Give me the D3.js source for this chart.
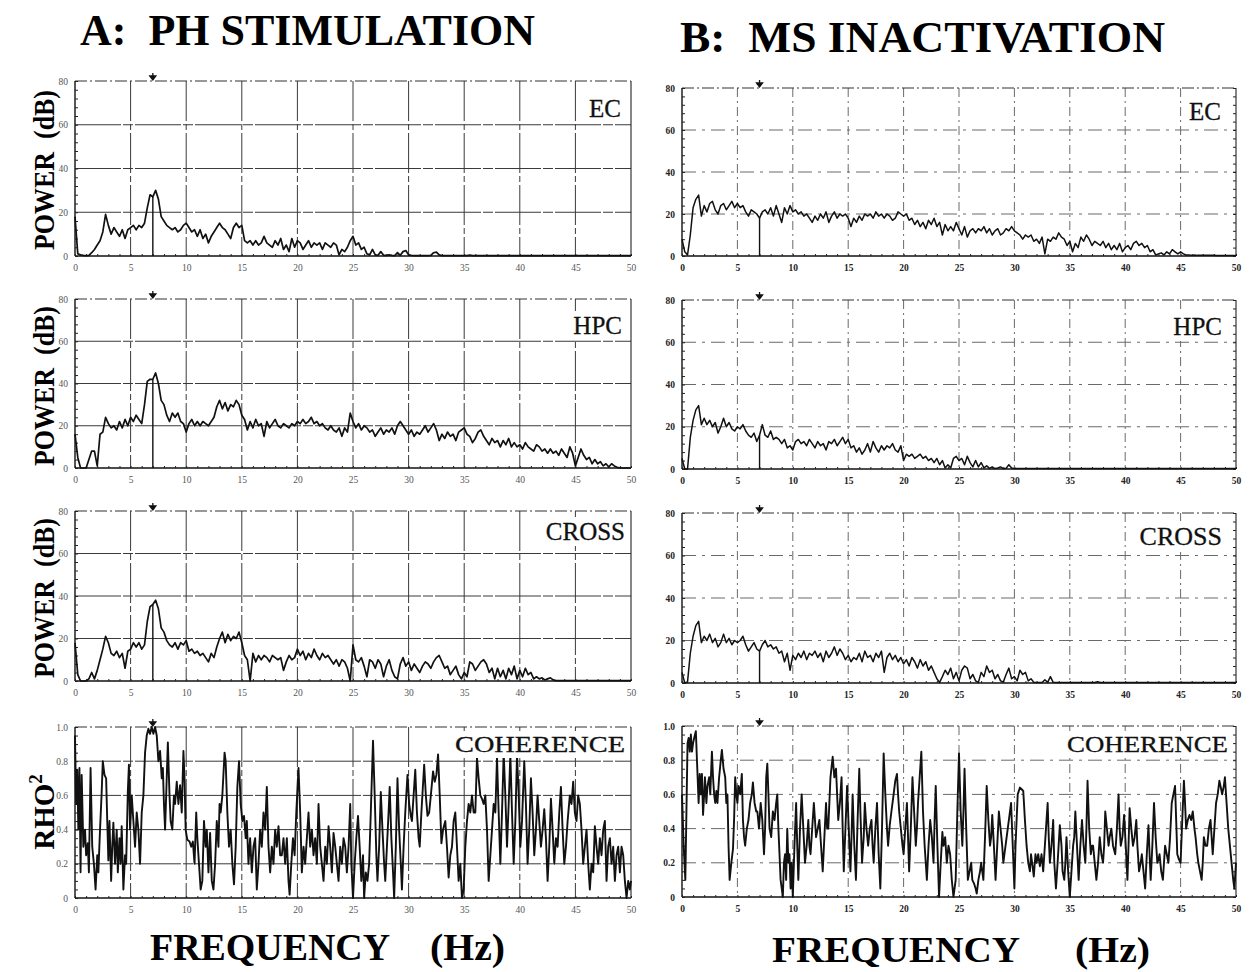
<!DOCTYPE html>
<html>
<head>
<meta charset="utf-8">
<script src="https://cdn.jsdelivr.net/npm/d3@7"></script>
<style>
  body { margin: 0; background: #fff; }
  svg text { font-family: "Liberation Serif", "Times New Roman", serif; }
</style>
</head>
<body>
<svg id="fig" width="1251" height="972"></svg>
<script>
// spectra are sampled every 0.25 Hz from 0 to 50 Hz
var FREQ_STEP = 0.25
var markerHz = 7
var xTicks = [0, 5, 10, 15, 20, 25, 30, 35, 40, 45, 50]
var powerTicks = [0, 20, 40, 60, 80]
var cohTicks = [0, 0.2, 0.4, 0.6, 0.8, 1.0]

// A: PH stimulation, power in dB
var ecA = [
  18,1,0.5,0.3,0.2,0.3,1.5,3,5,7,11,19,14,10,13,11,9,12,8,12,
  13,14,12,14,13,15,22,28,27,30,26,18,16,14,13,12,13,11,12,14,
  15,13,11,12,9,12,8,10,6,9,11,13,15,13,12,10,8,13,15,13,
  14,7,6,7,5,7,5,6,9,6,5,4,7,5,8,3,5,2,8,4,
  7,6,3,5,7,4,6,5,6,3,6,5,4,6,5,0.5,3,2,4,7,
  9,5,6,3,4,1,0.5,3,0.5,0.3,2,0.3,0.3,0.5,0.3,0.2,1.5,0.3,2,2.5,
  0.5,0.3,0.2,0.2,0.2,0.2,0.2,0.2,0.3,1.5,1.8,0.5,0.2,0.2,0.2,0.2,0.2,0.2,0.2,0.2,
  0.2,0.2,0.4,0.2,0.2,0.2,0.2,0.2,0.2,0.2,0.2,0.2,0.2,0.2,0.2,0.2,0.2,0.2,0.2,0.2,
  0.2,0.2,0.2,0.2,0.2,0.2,0.2,0.2,0.2,0.2,0.2,0.2,0.2,0.2,0.2,0.2,0.2,0.2,0.2,0.2,
  0.2,0.2,0.2,0.2,0.2,0.2,0.2,0.2,0.2,0.2,0.2,0.2,0.2,0.2,0.2,0.2,0.2,0.2,0.2,0.2,
  0.2
]
var hpcA = [
  16,5,0,0,0,4,8,8,1,16,17,24,21,19,20,18,22,19,23,20,
  24,22,25,23,21,30,41,42,42,45,40,32,30,25,22,26,24,26,22,21,
  17,21,23,20,22,20,22,21,20,22,24,29,32,28,31,27,30,29,32,30,
  25,23,18,22,19,23,20,21,15,22,19,21,23,20,19,21,20,19,21,20,
  22,21,23,21,22,24,21,22,20,21,19,18,20,18,17,19,15,19,17,26,
  22,19,21,18,20,19,17,18,15,17,19,16,18,17,19,16,20,22,20,18,
  16,18,15,17,16,18,20,17,19,21,18,13,16,14,17,15,16,13,17,18,
  19,16,15,12,14,17,18,15,13,11,14,12,13,10,13,11,14,10,12,10,
  11,9,12,10,9,8,11,10,8,9,7,9,7,8,6,9,7,5,10,7,
  1,5,9,6,4,5,2,4,2,3,1,2,0.5,2,1,0.3,0,0,0,0,
  0
]
var crossA = [
  18,3,0,0,0,1,4,1,5,10,15,21,18,13,12,14,11,13,6,14,
  15,18,16,18,15,17,28,35,36,38,34,25,23,19,17,16,18,15,18,17,
  19,14,15,13,14,12,13,11,9,13,11,16,20,23,18,22,19,21,20,23,
  18,12,10,0,13,9,12,10,12,11,9,12,11,10,11,5,9,12,10,11,
  15,12,14,10,13,11,15,12,10,13,11,12,10,8,10,7,10,9,6,0,
  17,10,9,11,7,2,10,9,6,10,8,2,7,10,5,2,1,8,11,7,
  9,5,8,6,4,7,9,8,6,9,11,12,9,6,7,3,5,7,3,1,
  4,2,9,8,5,7,9,10,8,4,6,1,6,2,5,1,6,3,7,1,
  5,2,6,3,4,1,2,1,1.5,0.5,1,1.5,0.5,0.2,0.2,0.2,0.2,0.2,0.2,0.2,
  0.2,0.2,0.2,0.2,0.2,0.2,0.2,0.2,0.2,0.2,0.2,0.2,0.2,0.2,0.2,0.2,0.2,0.2,0.2,0.2,
  0.2
]
// coherence, read as [Hz, rho^2] turning points
var cohA = [
  [0,0.95],[0.1,0.55],[0.2,0.75],[0.3,0.4],[0.4,0.76],[0.5,0.15],[0.6,0.72],[0.75,0.3],[0.9,0.4],[1.0,0.25],
  [1.15,0.32],[1.25,0.15],[1.4,0.76],[1.55,0.3],[1.7,0.2],[1.85,0.05],[2.0,0.25],[2.1,0.15],[2.25,0.4],[2.4,0.62],
  [2.5,0.8],[2.65,0.72],[2.8,0.7],[2.9,0.45],[3.0,0.22],[3.1,0.45],[3.25,0.1],[3.35,0.3],[3.45,0.44],[3.6,0.2],
  [3.75,0.4],[3.85,0.15],[4.0,0.35],[4.1,0.2],[4.2,0.42],[4.35,0.05],[4.5,0.25],[4.6,0.2],[4.75,0.62],[4.85,0.78],
  [4.95,0.4],[5.1,0.6],[5.25,0.45],[5.4,0.3],[5.55,0.5],[5.7,0.4],[5.85,0.2],[6.0,0.5],[6.15,0.6],[6.3,0.85],
  [6.45,0.95],[6.6,0.99],[6.75,0.96],[6.9,1.0],[7.05,0.96],[7.2,1.0],[7.35,0.95],[7.5,0.8],[7.65,0.86],[7.8,0.7],
  [7.9,0.76],[8.0,0.55],[8.1,0.4],[8.2,0.6],[8.35,0.91],[8.5,0.6],[8.6,0.45],[8.75,0.4],[8.9,0.6],[9.0,0.55],
  [9.15,0.68],[9.3,0.55],[9.45,0.66],[9.6,0.5],[9.75,0.86],[9.85,0.7],[9.95,0.4],[10.1,0.34],[10.3,0.33],[10.45,0.3],
  [10.6,0.33],[10.75,0.2],[10.9,0.5],[11.0,0.35],[11.15,0.2],[11.3,0.05],[11.45,0.1],[11.6,0.45],[11.75,0.3],[11.85,0.4],
  [12.0,0.15],[12.15,0.38],[12.3,0.1],[12.45,0.05],[12.6,0.2],[12.75,0.45],[12.9,0.3],[13.0,0.55],[13.1,0.5],[13.25,0.6],
  [13.45,0.85],[13.55,0.8],[13.7,0.5],[13.85,0.3],[14.0,0.4],[14.15,0.2],[14.3,0.08],[14.45,0.3],[14.6,0.65],[14.75,0.8],
  [14.9,0.55],[15.05,0.45],[15.2,0.48],[15.35,0.35],[15.45,0.45],[15.6,0.2],[15.75,0.35],[15.9,0.15],[16.05,0.3],[16.2,0.35],
  [16.35,0.05],[16.5,0.2],[16.65,0.4],[16.8,0.3],[16.95,0.5],[17.1,0.4],[17.25,0.65],[17.4,0.3],[17.55,0.15],[17.7,0.3],
  [17.85,0.2],[18.0,0.4],[18.15,0.3],[18.3,0.42],[18.45,0.25],[18.6,0.25],[18.75,0.35],[18.9,0.2],[19.05,0.35],[19.2,0.1],
  [19.3,0.02],[19.45,0.2],[19.6,0.35],[19.75,0.25],[19.9,0.5],[20.1,0.76],[20.25,0.5],[20.4,0.15],[20.55,0.3],[20.7,0.2],
  [20.85,0.35],[21.0,0.5],[21.15,0.3],[21.3,0.4],[21.45,0.25],[21.6,0.35],[21.75,0.2],[21.9,0.55],[22.05,0.3],[22.2,0.2],
  [22.35,0.1],[22.5,0.3],[22.65,0.2],[22.8,0.42],[22.95,0.3],[23.1,0.15],[23.25,0.38],[23.4,0.3],[23.55,0.2],[23.7,0.1],
  [23.85,0.3],[24.0,0.2],[24.15,0.35],[24.3,0.3],[24.45,0.15],[24.6,0.3],[24.75,0.55],[24.85,0.2],[25.0,0.0],[25.15,0.2],
  [25.3,0.35],[25.45,0.48],[25.6,0.3],[25.75,0.1],[25.9,0.25],[26.0,0.0],[26.15,0.15],[26.3,0.1],[26.45,0.2],[26.6,0.5],
  [26.8,0.92],[26.95,0.6],[27.1,0.25],[27.2,0.1],[27.35,0.3],[27.5,0.62],[27.65,0.4],[27.8,0.2],[27.9,0.1],[28.05,0.3],
  [28.2,0.5],[28.3,0.65],[28.45,0.35],[28.6,0.15],[28.7,0.0],[28.85,0.3],[29.0,0.7],[29.15,0.4],[29.3,0.2],[29.4,0.05],
  [29.55,0.3],[29.7,0.5],[29.9,0.72],[30.05,0.55],[30.2,0.48],[30.3,0.45],[30.45,0.6],[30.6,0.75],[30.75,0.5],[30.9,0.35],
  [31.0,0.3],[31.15,0.5],[31.4,0.78],[31.55,0.6],[31.7,0.48],[31.85,0.5],[32.0,0.6],[32.2,0.74],[32.35,0.68],[32.5,0.72],
  [32.65,0.84],[32.8,0.6],[32.95,0.32],[33.1,0.4],[33.3,0.45],[33.45,0.3],[33.6,0.12],[33.75,0.25],[33.9,0.3],[34.05,0.45],
  [34.2,0.5],[34.35,0.3],[34.5,0.1],[34.65,0.2],[34.8,0.0],[34.95,0.05],[35.1,0.3],[35.25,0.45],[35.4,0.55],[35.55,0.5],
  [35.7,0.6],[35.85,0.5],[36.0,0.5],[36.15,0.82],[36.3,0.7],[36.45,0.6],[36.6,0.58],[36.75,0.55],[36.9,0.6],[37.05,0.4],
  [37.2,0.1],[37.35,0.25],[37.5,0.4],[37.65,0.55],[37.8,0.5],[37.95,0.82],[38.1,0.5],[38.25,0.2],[38.4,0.5],[38.55,0.85],
  [38.7,0.6],[38.85,0.3],[39.0,0.55],[39.15,0.84],[39.3,0.5],[39.45,0.2],[39.6,0.45],[39.75,0.84],[39.9,0.6],[40.05,0.3],
  [40.2,0.45],[40.4,0.8],[40.55,0.55],[40.7,0.2],[40.85,0.4],[41.0,0.7],[41.15,0.5],[41.3,0.25],[41.45,0.4],[41.6,0.6],
  [41.75,0.45],[41.9,0.3],[42.05,0.4],[42.2,0.52],[42.35,0.35],[42.5,0.1],[42.65,0.3],[42.8,0.58],[42.95,0.4],[43.1,0.2],
  [43.25,0.35],[43.4,0.3],[43.55,0.5],[43.7,0.65],[43.85,0.4],[44.0,0.2],[44.15,0.3],[44.3,0.45],[44.5,0.6],[44.65,0.55],
  [44.8,0.68],[44.95,0.5],[45.1,0.45],[45.25,0.6],[45.4,0.55],[45.55,0.4],[45.7,0.2],[45.85,0.3],[46.0,0.4],[46.15,0.2],
  [46.3,0.05],[46.45,0.2],[46.6,0.15],[46.75,0.42],[46.9,0.3],[47.05,0.2],[47.2,0.35],[47.35,0.25],[47.5,0.4],[47.65,0.45],
  [47.8,0.1],[47.95,0.3],[48.1,0.35],[48.25,0.2],[48.4,0.3],[48.55,0.1],[48.7,0.25],[48.85,0.3],[49.0,0.15],[49.15,0.3],
  [49.3,0.25],[49.45,0.1],[49.6,0.0],[49.75,0.1],[49.9,0.05],[50.0,0.1]
]

// B: MS inactivation, power in dB
var ecB = [
  8,2,0.5,10,23,27,29,19,24,21,25,26,22,20,24,25,22,24,26,23,
  25,23,24,21,19,22,21,20,18,21,22,20,23,19,24,20,16,23,20,24,
  21,22,20,21,19,20,18,16,19,17,20,18,21,16,19,21,18,20,19,20,
  18,14,18,16,19,17,20,19,20,18,21,19,20,18,20,19,17,18,21,20,
  19,20,17,18,15,17,14,16,13,17,15,18,14,16,10,15,12,14,12,16,
  13,10,14,9,12,13,11,13,12,14,11,13,10,12,13,10,11,13,12,14,
  12,11,10,8,10,9,10,7,8,6,9,1,8,7,9,8,11,9,8,5,
  7,2,6,4,9,7,10,8,5,7,6,5,7,4,6,3,5,3,6,2,
  4,5,3,6,7,5,6,4,5,2,3,0.5,1,1.5,0.5,2,1,3,2,1,
  2,1,0.5,0.5,0.3,0.5,0.3,0.3,0.3,0.3,0.3,0.3,0.3,0.2,0.2,0.2,0.2,0.2,0.2,0.2,
  0.2
]
var hpcB = [
  5,0,0,15,23,28,30,21,24,21,23,20,22,17,20,24,20,22,19,18,
  20,19,21,18,16,15,17,13,16,21,16,15,18,14,15,14,12,14,10,11,
  9,13,14,12,13,11,14,12,10,13,11,12,9,13,12,14,11,13,15,12,
  14,10,11,8,10,7,9,12,8,13,10,8,11,9,11,10,12,9,8,11,
  4,7,6,7,5,6,7,5,6,4,5,3,5,2,4,0.5,2,0.5,5,6,
  4,5,2,6,3,1,4,1,3,0.5,1.5,0.3,1,0.2,0.5,1,0.2,0.3,2,0.5,
  0.2,0.2,0.2,0.2,0.2,0.2,0.2,0.2,0.2,0.2,0.2,0.2,0.2,0.2,0.2,0.2,0.2,0.2,0.2,0.2,
  0.2,0.2,0.2,0.2,0.2,0.2,0.2,0.2,0.2,0.2,0.2,0.2,0.2,0.2,0.2,0.2,0.2,0.2,0.2,0.2,
  0.2,0.2,0.2,0.2,0.2,0.2,0.2,0.2,0.2,0.2,0.2,0.2,0.2,0.2,0.2,0.2,0.2,0.2,0.2,0.2,
  0.2,0.2,0.2,0.2,0.2,0.2,0.2,0.2,0.2,0.2,0.2,0.2,0.2,0.2,0.2,0.2,0.2,0.2,0.2,0.2,
  0.2
]
var crossB = [
  5,0,0.5,14,22,27,29,19,22,20,23,19,21,17,19,23,19,21,18,20,
  19,20,22,18,15,17,19,16,15,18,20,17,18,16,17,14,15,10,14,6,
  13,11,14,12,15,11,14,13,15,12,14,10,15,12,14,17,13,16,14,11,
  13,10,12,11,14,10,15,12,13,10,14,12,15,5,12,14,11,13,10,12,
  9,11,8,12,10,7,11,8,10,6,8,5,2,0.3,3,6,4,7,2,5,
  1,6,8,7,2,4,1,0.3,5,3,8,5,6,2,4,1,0.5,4,7,2,
  3,1,6,4,5,1,2,0.3,0.2,0.2,0.2,1.5,0.3,3,0.3,0.2,0.2,0.2,0.2,0.2,
  0.2,0.2,0.2,0.2,0.2,0.2,0.2,0.2,0.2,0.2,0.6,0.2,0.2,0.2,0.2,0.2,0.2,0.2,0.2,0.2,
  0.2,0.2,0.2,0.2,0.2,0.2,0.2,0.2,0.2,0.2,0.2,0.2,0.2,0.2,0.2,0.2,0.2,0.2,0.2,0.2,
  0.2,0.2,0.2,0.2,0.2,0.2,0.2,0.2,0.2,0.2,0.2,0.2,0.2,0.2,0.2,0.2,0.2,0.2,0.2,0.2,
  0.2
]
var cohB = [
  [0,0.6],[0.15,0.3],[0.3,0.1],[0.4,0.5],[0.5,0.9],[0.6,0.93],[0.7,0.85],[0.8,0.95],[0.9,0.85],[1.0,0.9],
  [1.1,0.93],[1.25,0.97],[1.35,0.8],[1.5,0.55],[1.6,0.72],[1.7,0.6],[1.8,0.72],[1.9,0.48],[2.0,0.6],[2.07,0.7],
  [2.2,0.55],[2.3,0.65],[2.45,0.7],[2.55,0.6],[2.7,0.85],[2.8,0.7],[2.9,0.6],[3.0,0.55],[3.1,0.62],[3.2,0.55],
  [3.35,0.7],[3.5,0.8],[3.6,0.86],[3.75,0.75],[3.9,0.7],[4.0,0.55],[4.1,0.6],[4.2,0.3],[4.3,0.1],[4.45,0.2],
  [4.6,0.28],[4.7,0.45],[4.8,0.7],[4.9,0.6],[5.0,0.55],[5.1,0.65],[5.25,0.6],[5.4,0.72],[5.5,0.45],[5.6,0.35],
  [5.7,0.3],[5.85,0.4],[6.0,0.45],[6.15,0.55],[6.3,0.6],[6.4,0.67],[6.55,0.55],[6.7,0.5],[6.8,0.5],[6.95,0.4],
  [7.1,0.55],[7.25,0.45],[7.4,0.25],[7.5,0.4],[7.6,0.7],[7.7,0.78],[7.8,0.6],[7.9,0.4],[8.05,0.35],[8.2,0.5],
  [8.35,0.45],[8.5,0.55],[8.6,0.6],[8.7,0.4],[8.8,0.25],[8.9,0.1],[9.0,0.05],[9.1,0.0],[9.2,0.2],[9.3,0.25],
  [9.4,0.1],[9.5,0.4],[9.6,0.2],[9.7,0.25],[9.8,0.05],[9.9,0.2],[10.0,0.0],[10.15,0.3],[10.3,0.55],[10.4,0.3],
  [10.5,0.1],[10.65,0.4],[10.8,0.6],[10.95,0.4],[11.1,0.2],[11.25,0.3],[11.4,0.45],[11.5,0.3],[11.6,0.25],[11.75,0.4],
  [11.9,0.55],[12.0,0.45],[12.1,0.35],[12.25,0.4],[12.4,0.45],[12.55,0.3],[12.7,0.15],[12.85,0.35],[13.0,0.55],[13.1,0.4],
  [13.2,0.4],[13.4,0.7],[13.6,0.82],[13.75,0.7],[13.9,0.75],[14.0,0.6],[14.1,0.45],[14.25,0.55],[14.4,0.7],[14.5,0.4],
  [14.6,0.15],[14.75,0.4],[14.9,0.65],[15.05,0.4],[15.2,0.15],[15.3,0.35],[15.4,0.6],[15.55,0.3],[15.7,0.1],[15.85,0.45],
  [16.0,0.75],[16.1,0.5],[16.25,0.2],[16.4,0.35],[16.5,0.55],[16.65,0.4],[16.8,0.3],[16.95,0.4],[17.1,0.45],[17.2,0.3],
  [17.3,0.2],[17.45,0.4],[17.6,0.55],[17.75,0.25],[17.9,0.05],[18.05,0.4],[18.2,0.84],[18.35,0.6],[18.5,0.4],[18.6,0.3],
  [18.75,0.42],[18.9,0.5],[19.1,0.6],[19.25,0.68],[19.4,0.72],[19.5,0.6],[19.6,0.5],[19.75,0.4],[19.9,0.3],[20.0,0.25],
  [20.15,0.4],[20.3,0.55],[20.4,0.35],[20.5,0.15],[20.65,0.4],[20.8,0.7],[20.95,0.5],[21.1,0.3],[21.2,0.4],[21.3,0.55],
  [21.45,0.7],[21.6,0.85],[21.75,0.5],[21.9,0.3],[22.0,0.2],[22.1,0.1],[22.25,0.3],[22.4,0.45],[22.55,0.35],[22.7,0.2],
  [22.8,0.45],[22.9,0.65],[23.05,0.3],[23.2,0.0],[23.35,0.2],[23.5,0.38],[23.6,0.3],[23.75,0.35],[23.9,0.2],[24.05,0.3],
  [24.2,0.25],[24.35,0.1],[24.5,0.0],[24.6,0.05],[24.7,0.1],[24.85,0.5],[25.0,0.84],[25.15,0.5],[25.3,0.3],[25.4,0.5],
  [25.5,0.75],[25.65,0.4],[25.8,0.1],[25.95,0.15],[26.1,0.2],[26.2,0.1],[26.35,0.08],[26.5,0.05],[26.6,0.02],[26.75,0.1],
  [26.9,0.15],[27.0,0.2],[27.1,0.15],[27.2,0.1],[27.35,0.35],[27.5,0.65],[27.65,0.45],[27.8,0.3],[27.9,0.35],[28.0,0.48],
  [28.15,0.3],[28.3,0.1],[28.45,0.3],[28.6,0.5],[28.75,0.4],[28.9,0.3],[29.0,0.2],[29.1,0.25],[29.3,0.35],[29.5,0.45],
  [29.6,0.5],[29.7,0.55],[29.85,0.3],[30.0,0.05],[30.1,0.3],[30.3,0.6],[30.5,0.64],[30.65,0.63],[30.8,0.62],[30.95,0.45],
  [31.1,0.3],[31.25,0.2],[31.4,0.15],[31.5,0.25],[31.6,0.2],[31.75,0.12],[31.9,0.25],[32.0,0.2],[32.15,0.25],[32.3,0.18],
  [32.45,0.25],[32.6,0.15],[32.7,0.25],[32.85,0.4],[33.0,0.55],[33.1,0.35],[33.2,0.2],[33.35,0.3],[33.5,0.45],[33.6,0.2],
  [33.75,0.05],[33.9,0.2],[34.1,0.42],[34.25,0.3],[34.35,0.15],[34.5,0.1],[34.6,0.2],[34.7,0.35],[34.85,0.15],[35.0,0.0],
  [35.15,0.15],[35.3,0.3],[35.4,0.35],[35.5,0.5],[35.65,0.3],[35.8,0.1],[35.95,0.3],[36.1,0.45],[36.25,0.3],[36.4,0.2],
  [36.5,0.4],[36.6,0.68],[36.75,0.4],[36.9,0.25],[37.0,0.3],[37.1,0.3],[37.25,0.2],[37.4,0.1],[37.55,0.2],[37.7,0.35],
  [37.85,0.25],[38.0,0.2],[38.1,0.3],[38.2,0.5],[38.35,0.4],[38.5,0.3],[38.6,0.35],[38.75,0.4],[38.9,0.3],[39.1,0.25],
  [39.25,0.4],[39.4,0.6],[39.5,0.4],[39.6,0.3],[39.75,0.35],[39.9,0.48],[40.05,0.3],[40.2,0.1],[40.3,0.3],[40.4,0.52],
  [40.55,0.4],[40.7,0.3],[40.85,0.35],[41.0,0.45],[41.1,0.3],[41.25,0.15],[41.4,0.2],[41.5,0.25],[41.65,0.15],[41.8,0.05],
  [41.95,0.25],[42.1,0.42],[42.2,0.25],[42.3,0.1],[42.45,0.3],[42.6,0.55],[42.75,0.35],[42.9,0.2],[43.0,0.22],[43.1,0.25],
  [43.25,0.15],[43.4,0.1],[43.5,0.2],[43.6,0.3],[43.75,0.25],[43.9,0.2],[44.05,0.35],[44.2,0.55],[44.35,0.6],[44.5,0.65],
  [44.6,0.45],[44.7,0.25],[44.85,0.22],[45.0,0.2],[45.15,0.45],[45.3,0.68],[45.4,0.55],[45.5,0.4],[45.65,0.45],[45.8,0.48],
  [45.95,0.45],[46.1,0.5],[46.25,0.4],[46.35,0.35],[46.5,0.25],[46.6,0.2],[46.75,0.15],[46.9,0.1],[47.0,0.2],[47.1,0.35],
  [47.25,0.3],[47.4,0.3],[47.55,0.4],[47.7,0.45],[47.8,0.35],[47.9,0.25],[48.05,0.4],[48.2,0.55],[48.35,0.6],[48.5,0.68],
  [48.6,0.65],[48.75,0.6],[48.9,0.65],[49.0,0.7],[49.15,0.55],[49.3,0.4],[49.45,0.3],[49.6,0.2],[49.75,0.1],[49.85,0.05],
  [50.0,0.2]
]

var svg = d3.select("#fig")

// layout of the two columns
var colA = {x0: 75, x1: 631, grid: "#3a3a3a", hDash: "46,2,10,2", vDash: "40,3,6,3", tickFill: "#555", tickWeight: "normal", stroke: 1.7, rightTicks: false}
var colB = {x0: 682, x1: 1236, grid: "#6a6a6a", hDash: "14,6,3,6", vDash: "9,4,2,4", tickFill: "#222", tickWeight: "bold", stroke: 1.5, rightTicks: true}

var panelsA = [
  {label: "EC", kind: "power", values: ecA, top: 81, bottom: 256, lx: 621, ly: 117, fs: 25},
  {label: "HPC", kind: "power", values: hpcA, top: 299, bottom: 468, lx: 622, ly: 334, fs: 25},
  {label: "CROSS", kind: "power", values: crossA, top: 511, bottom: 681, lx: 625, ly: 540, fs: 25},
  {label: "COHERENCE", kind: "coh", pts: cohA, top: 727, bottom: 898, lx: 625, ly: 752, fs: 23, len: 170}
]
var panelsB = [
  {label: "EC", kind: "power", values: ecB, top: 88, bottom: 256, lx: 1221, ly: 120, fs: 25},
  {label: "HPC", kind: "power", values: hpcB, top: 300, bottom: 469, lx: 1222, ly: 335, fs: 25},
  {label: "CROSS", kind: "power", values: crossB, top: 513, bottom: 683, lx: 1222, ly: 545, fs: 26},
  {label: "COHERENCE", kind: "coh", pts: cohB, top: 726, bottom: 897, lx: 1228, ly: 752, fs: 23, len: 161}
]

var drawPanel = function(p, col){
  var isPower = p.kind == "power"
  var x = d3.scaleLinear().domain([0, 50]).range([col.x0, col.x1])
  var y = d3.scaleLinear().domain(isPower ? [0, 80] : [0, 1]).range([p.bottom, p.top])
  var yTicks = isPower ? powerTicks : cohTicks
  var g = svg.append("g")

  // grid
  g.selectAll(".hg").data(yTicks.slice(1, -1)).enter().append("line")
    .attr("x1", col.x0).attr("x2", col.x1)
    .attr("y1", function(d){ return y(d) }).attr("y2", function(d){ return y(d) })
    .attr("stroke", col.grid).attr("stroke-width", 1).attr("stroke-dasharray", col.hDash)
  g.selectAll(".vg").data(xTicks.slice(1, -1)).enter().append("line")
    .attr("x1", function(d){ return x(d) }).attr("x2", function(d){ return x(d) })
    .attr("y1", p.top).attr("y2", p.bottom)
    .attr("stroke", col.grid).attr("stroke-width", 1).attr("stroke-dasharray", col.vDash)

  // frame
  g.append("line").attr("x1", col.x0).attr("x2", col.x1).attr("y1", p.top).attr("y2", p.top)
    .attr("stroke", "#333").attr("stroke-width", 1.1).attr("stroke-dasharray", "12,3,2,3")
  g.append("line").attr("x1", col.x0).attr("x2", col.x1).attr("y1", p.bottom).attr("y2", p.bottom)
    .attr("stroke", "#111").attr("stroke-width", 1.3)
  g.append("line").attr("x1", col.x0).attr("x2", col.x0).attr("y1", p.top).attr("y2", p.bottom)
    .attr("stroke", "#111").attr("stroke-width", 1.4)
  g.append("line").attr("x1", col.x1).attr("x2", col.x1).attr("y1", p.top).attr("y2", p.bottom)
    .attr("stroke", "#222").attr("stroke-width", 1.1)

  // small ticks along the frame
  var minor = isPower ? d3.range(0, 80.01, 4) : d3.range(0, 1.001, 0.05)
  var ml = g.append("g").attr("transform", "translate(" + col.x0 + ",0)")
    .call(d3.axisRight(y).tickValues(minor).tickSize(3).tickFormat(""))
  ml.select(".domain").remove()
  ml.selectAll("line").attr("stroke", "#222")
  if (col.rightTicks){
    var mr = g.append("g").attr("transform", "translate(" + col.x1 + ",0)")
      .call(d3.axisLeft(y).tickValues(minor).tickSize(3).tickFormat(""))
    mr.select(".domain").remove()
    mr.selectAll("line").attr("stroke", "#222")
  }
  var mb = g.append("g").attr("transform", "translate(0," + p.bottom + ")")
    .call(d3.axisTop(x).tickValues(d3.range(0, 50.01, 1)).tickSize(2).tickFormat(""))
  mb.select(".domain").remove()
  mb.selectAll("line").attr("stroke", "#222")

  // tick labels
  var ya = g.append("g").attr("transform", "translate(" + col.x0 + ",0)")
    .call(d3.axisLeft(y).tickValues(yTicks).tickSize(0).tickPadding(7)
      .tickFormat(function(d){ return isPower ? d : (d == 0 ? "0" : d.toFixed(1)) }))
  ya.select(".domain").remove()
  var xa = g.append("g").attr("transform", "translate(0," + p.bottom + ")")
    .call(d3.axisBottom(x).tickValues(xTicks).tickSize(0).tickPadding(8))
  xa.select(".domain").remove()
  g.selectAll(".tick text")
    .attr("font-family", "DejaVu Sans Mono, monospace").attr("font-size", 9.5)
    .attr("fill", col.tickFill).attr("font-weight", col.tickWeight)

  // 7 Hz marker
  var mx = x(markerHz)
  g.append("path")
    .attr("d", "M" + mx + "," + (p.top - 8) + "V" + (p.top - 1) + "M" + (mx - 3) + "," + (p.top - 5) + "L" + mx + "," + (p.top - 1) + "L" + (mx + 3) + "," + (p.top - 5) + "Z")
    .attr("stroke", "#111").attr("stroke-width", 1.3).attr("fill", "#111")

  var pts
  if (isPower){
    pts = p.values.map(function(v, i){ return [i * FREQ_STEP, v] })
    var mv = p.values[Math.round(markerHz / FREQ_STEP)]
    g.append("line").attr("x1", mx).attr("x2", mx).attr("y1", y(0)).attr("y2", y(mv))
      .attr("stroke", "#111").attr("stroke-width", 1.4)
  } else {
    pts = p.pts
  }

  var line = d3.line().x(function(d){ return x(d[0]) }).y(function(d){ return y(d[1]) })
  g.append("path").datum(pts).attr("d", line)
    .attr("fill", "none").attr("stroke", "#111")
    .attr("stroke-width", isPower ? col.stroke : 1.9).attr("stroke-linejoin", "round")

  // panel label on a white box
  var t = g.append("text").attr("x", p.lx).attr("y", p.ly).attr("text-anchor", "end")
    .attr("font-size", p.fs).attr("fill", "#111").attr("stroke", "#111").attr("stroke-width", 0.3)
    .text(p.label)
  if (p.len){ t.attr("textLength", p.len).attr("lengthAdjust", "spacingAndGlyphs") }
  var bb = t.node().getBBox()
  g.insert("rect", function(){ return t.node() }).attr("x", bb.x - 4).attr("y", bb.y - 1)
    .attr("width", bb.width + 7).attr("height", bb.height + 2).attr("fill", "#fff")
}

panelsA.forEach(function(p){ drawPanel(p, colA) })
panelsB.forEach(function(p){ drawPanel(p, colB) })

// titles
svg.append("text").attr("x", 80).attr("y", 45).attr("font-size", 44).attr("font-weight", "bold")
  .attr("textLength", 455).attr("lengthAdjust", "spacingAndGlyphs").style("white-space", "pre")
  .text("A:  PH STIMULATION")
svg.append("text").attr("x", 680).attr("y", 52).attr("font-size", 44).attr("font-weight", "bold")
  .attr("textLength", 485).attr("lengthAdjust", "spacingAndGlyphs").style("white-space", "pre")
  .text("B:  MS INACTIVATION")

// y titles (left column only)
var yTitles = [170, 386, 598]
yTitles.forEach(function(cy){
  svg.append("text").attr("transform", "translate(54," + cy + ") rotate(-90)")
    .attr("text-anchor", "middle").attr("font-size", 29).attr("font-weight", "bold")
    .attr("textLength", 160).attr("lengthAdjust", "spacingAndGlyphs").style("white-space", "pre")
    .text("POWER  (dB)")
})
var rho = svg.append("text").attr("transform", "translate(54,812) rotate(-90)")
  .attr("text-anchor", "middle").attr("font-size", 29).attr("font-weight", "bold")
rho.append("tspan").text("RHO")
rho.append("tspan").attr("font-size", 19).attr("dy", -12).text("2")

// x titles
svg.append("text").attr("x", 150).attr("y", 960).attr("font-size", 37).attr("font-weight", "bold")
  .attr("textLength", 240).attr("lengthAdjust", "spacingAndGlyphs").text("FREQUENCY")
svg.append("text").attr("x", 430).attr("y", 960).attr("font-size", 37).attr("font-weight", "bold")
  .attr("textLength", 75).attr("lengthAdjust", "spacingAndGlyphs").text("(Hz)")
svg.append("text").attr("x", 772).attr("y", 962).attr("font-size", 36).attr("font-weight", "bold")
  .attr("textLength", 248).attr("lengthAdjust", "spacingAndGlyphs").text("FREQUENCY")
svg.append("text").attr("x", 1075).attr("y", 962).attr("font-size", 36).attr("font-weight", "bold")
  .attr("textLength", 75).attr("lengthAdjust", "spacingAndGlyphs").text("(Hz)")
</script>
</body>
</html>
